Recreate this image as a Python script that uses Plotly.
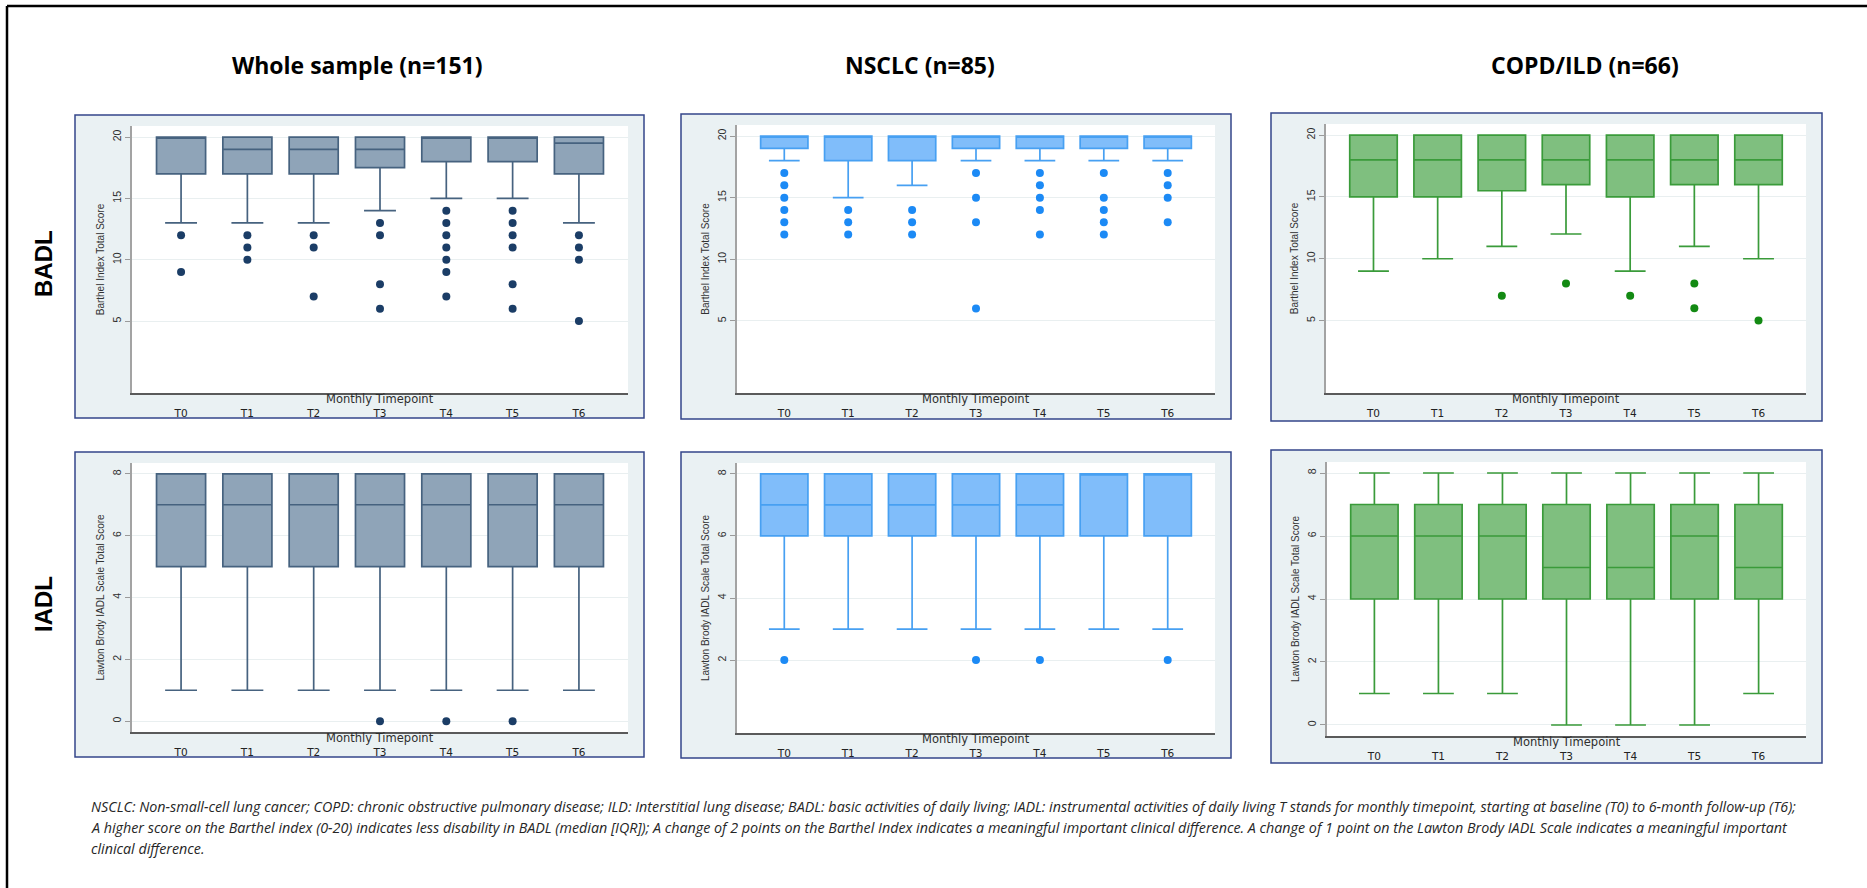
import plotly.graph_objects as go

W, H = 1867, 888

timepoints = ["T0", "T1", "T2", "T3", "T4", "T5", "T6"]
positions = [0, 1, 2, 3, 4, 5, 6]

# ---- BADL: Barthel Index Total Score ----
badl_all_q1 = [17, 17, 17, 17.5, 18, 18, 17]
badl_all_med = [20, 19, 19, 19, 20, 20, 19.5]
badl_all_q3 = [20, 20, 20, 20, 20, 20, 20]
badl_all_lo = [13, 13, 13, 14, 15, 15, 13]
badl_all_hi = [20, 20, 20, 20, 20, 20, 20]
badl_all_out = [[12, 9], [12, 11, 10], [12, 11, 7], [13, 12, 8, 6],
                [14, 13, 12, 11, 10, 9, 7], [14, 13, 12, 11, 8, 6], [12, 11, 10, 5]]

badl_nsclc_q1 = [19, 18, 18, 19, 19, 19, 19]
badl_nsclc_med = [20, 20, 20, 20, 20, 20, 20]
badl_nsclc_q3 = [20, 20, 20, 20, 20, 20, 20]
badl_nsclc_lo = [18, 15, 16, 18, 18, 18, 18]
badl_nsclc_hi = [20, 20, 20, 20, 20, 20, 20]
badl_nsclc_out = [[17, 16, 15, 14, 13, 12], [14, 13, 12], [14, 13, 12], [17, 15, 13, 6],
                  [17, 16, 15, 14, 12], [17, 15, 14, 13, 12], [17, 16, 15, 13]]

badl_copd_q1 = [15, 15, 15.5, 16, 15, 16, 16]
badl_copd_med = [18, 18, 18, 18, 18, 18, 18]
badl_copd_q3 = [20, 20, 20, 20, 20, 20, 20]
badl_copd_lo = [9, 10, 11, 12, 9, 11, 10]
badl_copd_hi = [20, 20, 20, 20, 20, 20, 20]
badl_copd_out = [[], [], [7], [8], [7], [8, 6], [5]]

# ---- IADL: Lawton Brody IADL Scale Total Score ----
iadl_all_q1 = [5, 5, 5, 5, 5, 5, 5]
iadl_all_med = [7, 7, 7, 7, 7, 7, 7]
iadl_all_q3 = [8, 8, 8, 8, 8, 8, 8]
iadl_all_lo = [1, 1, 1, 1, 1, 1, 1]
iadl_all_hi = [8, 8, 8, 8, 8, 8, 8]
iadl_all_out = [[], [], [], [0], [0], [0], []]

iadl_nsclc_q1 = [6, 6, 6, 6, 6, 6, 6]
iadl_nsclc_med = [7, 7, 7, 7, 7, 8, 8]
iadl_nsclc_q3 = [8, 8, 8, 8, 8, 8, 8]
iadl_nsclc_lo = [3, 3, 3, 3, 3, 3, 3]
iadl_nsclc_hi = [8, 8, 8, 8, 8, 8, 8]
iadl_nsclc_out = [[2], [], [], [2], [2], [], [2]]

iadl_copd_q1 = [4, 4, 4, 4, 4, 4, 4]
iadl_copd_med = [6, 6, 6, 5, 5, 6, 5]
iadl_copd_q3 = [7, 7, 7, 7, 7, 7, 7]
iadl_copd_lo = [1, 1, 1, 0, 0, 0, 1]
iadl_copd_hi = [8, 8, 8, 8, 8, 8, 8]
iadl_copd_out = [[], [], [], [], [], [], []]

group_titles = ["Whole sample (n=151)", "NSCLC (n=85)", "COPD/ILD (n=66)"]
row_labels = ["BADL", "IADL"]
badl_title = "Barthel Index Total Score"
iadl_title = "Lawton Brody IADL Scale Total Score"
x_title = "Monthly Timepoint"

footnote_lines = [
    "NSCLC: Non-small-cell lung cancer; COPD: chronic obstructive pulmonary disease; ILD: Interstitial lung disease; "
    "BADL: basic activities of daily living; IADL: instrumental activities of daily living T stands for monthly timepoint, "
    "starting at baseline (T0) to 6-month follow-up (T6);",
    "A higher score on the Barthel index (0-20) indicates less disability in BADL (median [IQR]); A change of 2 points on "
    "the Barthel Index indicates a meaningful important clinical difference. A change of 1 point on the Lawton Brody IADL "
    "Scale indicates a meaningful important",
    "clinical difference.",
]

# colour schemes per group: box fill, outline/whisker, outlier marker
styles = [
    dict(fill="#8fa4b8", line="#46627f", dot="#1b3d66"),
    dict(fill="#80bdfa", line="#47a0f2", dot="#1c8af5"),
    dict(fill="#7fbf7f", line="#3a9b3a", dot="#138a13"),
]


def px_x(a, b):
    return [a / W, b / W]


def px_y(top, bottom):
    return [1 - bottom / H, 1 - top / H]


# panel geometry in pixels: plot area (l, r, t, b) and outer frame (l, r, t, b)
panels = [
    dict(data=(badl_all_q1, badl_all_med, badl_all_q3, badl_all_lo, badl_all_hi, badl_all_out),
         style=0, kind="badl", plot=(132, 628, 126, 393), frame=(75, 644, 115, 418)),
    dict(data=(badl_nsclc_q1, badl_nsclc_med, badl_nsclc_q3, badl_nsclc_lo, badl_nsclc_hi, badl_nsclc_out),
         style=1, kind="badl", plot=(737, 1215, 125, 393), frame=(681, 1231, 114, 419)),
    dict(data=(badl_copd_q1, badl_copd_med, badl_copd_q3, badl_copd_lo, badl_copd_hi, badl_copd_out),
         style=2, kind="badl", plot=(1326, 1806, 124, 393), frame=(1271, 1822, 113, 421)),
    dict(data=(iadl_all_q1, iadl_all_med, iadl_all_q3, iadl_all_lo, iadl_all_hi, iadl_all_out),
         style=0, kind="iadl", plot=(132, 628, 463, 732), frame=(75, 644, 452, 757)),
    dict(data=(iadl_nsclc_q1, iadl_nsclc_med, iadl_nsclc_q3, iadl_nsclc_lo, iadl_nsclc_hi, iadl_nsclc_out),
         style=1, kind="iadl_n", plot=(737, 1215, 463, 733), frame=(681, 1231, 452, 758)),
    dict(data=(iadl_copd_q1, iadl_copd_med, iadl_copd_q3, iadl_copd_lo, iadl_copd_hi, iadl_copd_out),
         style=2, kind="iadl", plot=(1327, 1806, 462, 736), frame=(1271, 1822, 450, 763)),
]

fig = go.Figure()
layout = dict(
    width=W, height=H,
    margin=dict(l=0, r=0, t=0, b=0),
    paper_bgcolor="white", plot_bgcolor="white",
    showlegend=False,
)
shapes = []
annotations = []

tick_font = dict(family="Liberation Sans, Arial, sans-serif", size=10.5, color="#2e2e2e")
xt_font = dict(family="DejaVu Sans, sans-serif", size=10.5, color="#222222")

for i, p in enumerate(panels):
    n = i + 1
    xa = "x" if n == 1 else f"x{n}"
    ya = "y" if n == 1 else f"y{n}"
    q1, med, q3, lo, hi, out = p["data"]
    st = styles[p["style"]]

    fig.add_trace(go.Box(
        x=positions, q1=q1, median=med, q3=q3, lowerfence=lo, upperfence=hi,
        orientation="v", boxpoints=False, width=0.74, whiskerwidth=0.65,
        fillcolor=st["fill"], line=dict(color=st["line"], width=1.7),
        xaxis=xa, yaxis=ya, hoverinfo="skip",
    ))
    ox = [positions[k] for k, vals in enumerate(out) for _ in vals]
    oy = [v for vals in out for v in vals]
    if oy:
        fig.add_trace(go.Scatter(
            x=ox, y=oy, mode="markers",
            marker=dict(color=st["dot"], size=8, line=dict(width=0)),
            xaxis=xa, yaxis=ya, hoverinfo="skip",
        ))

    pl, pr, pt, pb = p["plot"]
    if p["kind"] == "badl":
        yr, tv, ytitle = [-0.86, 20.9], [5, 10, 15, 20], badl_title
    elif p["kind"] == "iadl_n":
        yr, tv, ytitle = [-0.35, 8.35], [2, 4, 6, 8], iadl_title
    else:
        yr, tv, ytitle = [-0.35, 8.35], [0, 2, 4, 6, 8], iadl_title

    layout["xaxis" if n == 1 else f"xaxis{n}"] = dict(
        domain=px_x(pl, pr), anchor=ya, range=[-0.74, 6.74],
        tickmode="array", tickvals=positions, ticktext=timepoints,
        ticks="", ticklabelstandoff=10, tickfont=xt_font,
        showgrid=False, zeroline=False, showline=True,
        linecolor="#5a5a5a", linewidth=1.5, fixedrange=True,
    )
    layout["yaxis" if n == 1 else f"yaxis{n}"] = dict(
        domain=px_y(pt, pb), anchor=xa, range=yr,
        tickmode="array", tickvals=tv, tickangle=-90,
        ticks="outside", ticklen=5, tickcolor="#9a9a9a", tickwidth=1,
        tickfont=tick_font,
        showgrid=True, gridcolor="#e9eff0", gridwidth=1,
        zeroline=False, showline=True, linecolor="#a3a3a3", linewidth=1.5,
        title=dict(text=ytitle, font=dict(family="Liberation Sans, Arial, sans-serif",
                                          size=10, color="#333333"), standoff=5),
        fixedrange=True,
    )

    fl, fr, ft, fb = p["frame"]
    shapes.append(dict(type="rect", xref="paper", yref="paper", layer="below",
                       x0=fl / W, x1=fr / W, y0=1 - fb / H, y1=1 - ft / H,
                       fillcolor="#eaf1f3", line=dict(color="#34468a", width=1.5)))
    shapes.append(dict(type="rect", xref="paper", yref="paper", layer="below",
                       x0=pl / W, x1=pr / W, y0=1 - pb / H, y1=1 - pt / H,
                       fillcolor="white", line=dict(width=0)))
    annotations.append(dict(text=x_title, xref="paper", yref="paper",
                            x=(pl + pr) / 2 / W, y=1 - (pb + 6) / H,
                            xanchor="center", yanchor="middle", showarrow=False,
                            font=dict(family="DejaVu Sans, sans-serif", size=11.5, color="#2e2e2e")))

# outer border (top and left edges)
shapes.append(dict(type="line", xref="paper", yref="paper", x0=7 / W, x1=1.01,
                   y0=1 - 6 / H, y1=1 - 6 / H, line=dict(color="black", width=2.5)))
shapes.append(dict(type="line", xref="paper", yref="paper", x0=7 / W, x1=7 / W,
                   y0=1 - 6 / H, y1=-0.01, line=dict(color="black", width=2.5)))

title_x = [357, 920, 1585]
for t, cx in zip(group_titles, title_x):
    annotations.append(dict(text=f"<b>{t}</b>", xref="paper", yref="paper",
                            x=cx / W, y=1 - 65 / H, xanchor="center", yanchor="middle",
                            showarrow=False,
                            font=dict(family="Open Sans, sans-serif", size=23, color="black")))

for lab, cy in zip(row_labels, [264, 604]):
    annotations.append(dict(text=f"<b>{lab}</b>", xref="paper", yref="paper",
                            x=43 / W, y=1 - cy / H, xanchor="center", yanchor="middle",
                            textangle=-90, showarrow=False,
                            font=dict(family="Liberation Sans, Arial, sans-serif", size=24, color="black")))

for k, line in enumerate(footnote_lines):
    annotations.append(dict(text=f"<i>{line}</i>", xref="paper", yref="paper",
                            x=89 / W, y=1 - (806 + 21 * k) / H, xanchor="left", yanchor="middle",
                            showarrow=False,
                            font=dict(family="Open Sans, sans-serif", size=14.3, color="#262626")))

layout["shapes"] = shapes
layout["annotations"] = annotations
fig.update_layout(**layout)

fig.write_html("out.html")
